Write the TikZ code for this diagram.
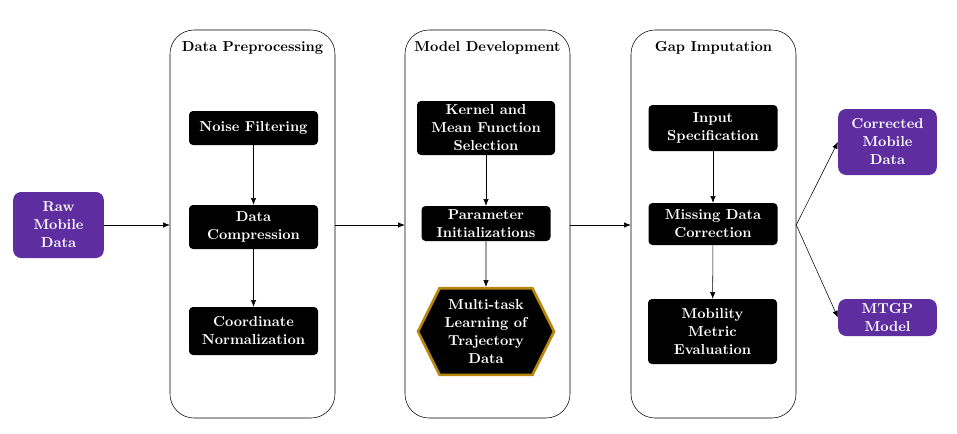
\documentclass[tikz,border=0pt]{standalone}
\usetikzlibrary{shapes.symbols, arrows.meta}
\definecolor{rawpurple}{RGB}{94,45,160}
\definecolor{hexgold}{RGB}{184,134,11}
\newcommand{\boxfont}{\fontsize{10.8}{13.5}\selectfont\bfseries}
\tikzset{
    stage/.style={draw, rounded corners=18pt, minimum width=123.75pt, minimum height=291pt},
    stagetitle/.style={font=\boxfont},
    procbox/.style={fill=black, text=white, rounded corners=3pt, font=\boxfont, align=center, minimum width=96.75pt, inner sep=2pt},
    databox/.style={fill=rawpurple, text=white, rounded corners=6pt, font=\boxfont, align=center, minimum width=74pt, inner sep=2pt},
    flow/.style={-{Latex[length=5pt, width=4pt]}}
}
\begin{document}
\begin{tikzpicture}[x=0.75pt, y=-0.75pt]
    \useasboundingbox (0,0) rectangle (957,433);

    % Stages
    \node[stage] (prep) at (252.5,224) {};
    \node[stage] (model) at (487.5,224) {};
    \node[stage] (gap) at (713.5,224) {};
    \node[stagetitle] (prept) at (252.5,48) {Data Preprocessing};
    \node[stagetitle] (modelt) at (487.5,48) {Model Development};
    \node[stagetitle] (gapt) at (713.5,48) {Gap Imputation};

    % Inputs and outputs
    \node[databox, minimum width=68pt, minimum height=49.5pt] (raw) at (58.5,225) {Raw\\Mobile\\Data};
    \node[databox, minimum height=49.5pt] (corr) at (887.5,142) {Corrected\\Mobile\\Data};
    \node[databox, minimum height=27.75pt] (mtgp) at (887.5,317.5) {MTGP\\Model};

    % Data Preprocessing
    \node[procbox, minimum height=25.5pt] (noise) at (253.5,128) {Noise Filtering};
    \node[procbox, minimum height=33pt] (comp) at (253.5,227) {Data\\Compression};
    \node[procbox, minimum height=36pt] (norm) at (253.5,331) {Coordinate\\Normalization};

    % Model Development
    \node[procbox, minimum width=103.5pt, minimum height=40.5pt] (kernel) at (486,128) {Kernel and\\Mean Function\\Selection};
    \node[procbox, minimum height=26.25pt] (param) at (486,223.5) {Parameter\\Initializations};
    \node[signal, signal to=west and east, signal pointer angle=127, fill=black, draw=hexgold, line width=2pt,
          text=white, font=\boxfont, align=center, minimum width=102pt, minimum height=65pt, inner sep=1pt] (mtl) at (486,331.5)
          {Multi-task\\Learning of\\Trajectory\\Data};

    % Gap Imputation
    \node[procbox, minimum height=34.5pt] (input) at (713,128) {Input\\Specification};
    \node[procbox, minimum height=31.5pt] (miss) at (713,224) {Missing Data\\Correction};
    \node[procbox, minimum height=48.75pt] (eval) at (712.5,331.5) {Mobility\\Metric\\Evaluation};

    % Arrows
    \draw[flow] (raw) -- (prep.west |- raw);
    \draw[flow] (prep.east |- raw) -- (model.west |- raw);
    \draw[flow] (model.east |- raw) -- (gap.west |- raw);
    \draw[flow] (noise) -- (comp);
    \draw[flow] (comp) -- (norm);
    \draw[flow] (kernel) -- (param);
    \draw[flow] (param) -- (mtl);
    \draw[flow] (input) -- (miss);
    \draw[flow] (miss) -- (eval);
    \draw[flow] (gap.east |- raw) -- (corr.west);
    \draw[flow] (gap.east |- raw) -- (mtgp.west);
\end{tikzpicture}
\end{document}
